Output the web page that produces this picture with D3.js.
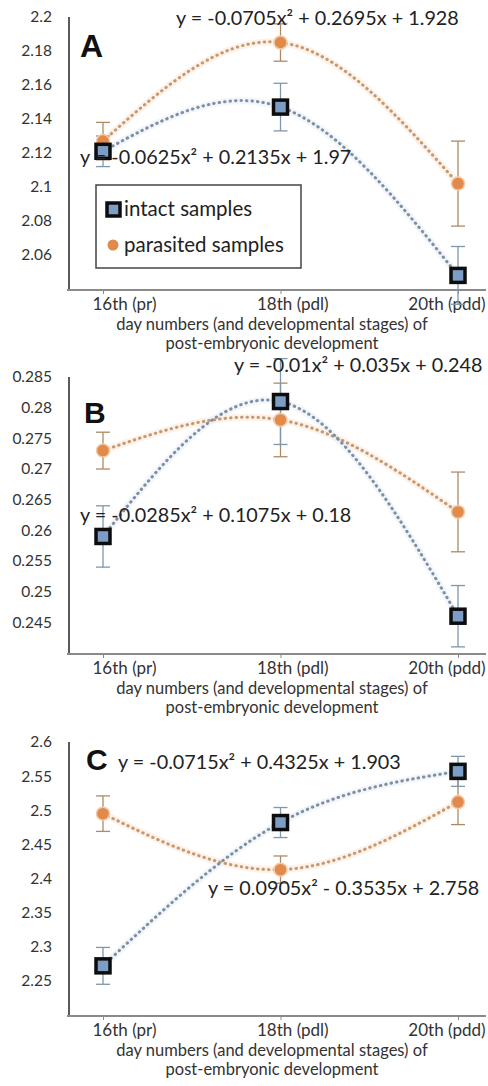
<!DOCTYPE html>
<html>
<head>
<meta charset="utf-8">
<script src="https://cdn.jsdelivr.net/npm/d3@7/dist/d3.min.js"></script>
<style>
  html, body { margin: 0; padding: 0; background: #fff; }
  svg { display: block; font-family: Lato, "Open Sans", sans-serif; }
</style>
</head>
<body>
<div id="chart"></div>
<script>
// day numbers (and stages) on the category axis
const stages = ['16th (pr)', '18th (pdl)', '20th (pdd)'];
const axisTitle = ['day numbers (and developmental stages) of', 'post-embryonic development'];
const seriesNames = ['intact samples', 'parasited samples'];

// panel A
const intactA = [2.121, 2.147, 2.048];
const intactErrA = [0.009, 0.014, 0.017];
const parasitedA = [2.127, 2.185, 2.102];
const parasitedErrA = [0.011, 0.011, 0.025];
const ticksA = [2.06, 2.08, 2.1, 2.12, 2.14, 2.16, 2.18, 2.2];
const domainA = [2.04, 2.2];
const equationsA = ['y = -0.0625x² + 0.2135x + 1.97', 'y = -0.0705x² + 0.2695x + 1.928'];

// panel B
const intactB = [0.259, 0.281, 0.246];
const intactErrB = [0.005, 0.007, 0.005];
const parasitedB = [0.273, 0.278, 0.263];
const parasitedErrB = [0.003, 0.006, 0.0065];
const ticksB = [0.245, 0.25, 0.255, 0.26, 0.265, 0.27, 0.275, 0.28, 0.285];
const domainB = [0.24, 0.285];
const equationsB = ['y = -0.0285x² + 0.1075x + 0.18', 'y = -0.01x² + 0.035x + 0.248'];

// panel C
const intactC = [2.272, 2.482, 2.557];
const intactErrC = [0.027, 0.022, 0.022];
const parasitedC = [2.495, 2.413, 2.512];
const parasitedErrC = [0.026, 0.02, 0.033];
const ticksC = [2.25, 2.3, 2.35, 2.4, 2.45, 2.5, 2.55, 2.6];
const domainC = [2.2, 2.6];
const equationsC = ['y = -0.0715x² + 0.4325x + 1.903', 'y = 0.0905x² - 0.3535x + 2.758'];

const width = 488;
const height = 1086;
const axisLeftX = 69;
const axisRightX = 486;

// where each category label sits relative to its tick (Excel squeezes them in)
const labelAnchor = ['start', 'start', 'end'];
const labelShift = [-11, -24, 27];

const colors = {
  intactFill: '#7c9ec6',
  intactLine: '#7f8fa2',
  intactErr: '#7f97ad',
  parasited: '#e08a4c',
  parasitedLine: '#c59870',
  parasitedErr: '#ad8a66'
};

const panels = [
  {
    letter: 'A', top: 17, bottom: 289, domain: domainA, ticks: ticksA,
    intact: intactA, intactErr: intactErrA, parasited: parasitedA, parasitedErr: parasitedErrA,
    letterPos: [80, 57, 32],
    eqIntact: { text: equationsA[0], x: 80, y: 157 },
    eqParasited: { text: equationsA[1], x: 176, y: 18 },
    legend: true
  },
  {
    letter: 'B', top: 377, bottom: 653, domain: domainB, ticks: ticksB,
    intact: intactB, intactErr: intactErrB, parasited: parasitedB, parasitedErr: parasitedErrB,
    letterPos: [84, 423, 30],
    eqIntact: { text: equationsB[0], x: 80, y: 515 },
    eqParasited: { text: equationsB[1], x: 234, y: 365 },
    legend: false
  },
  {
    letter: 'C', top: 742, bottom: 1015, domain: domainC, ticks: ticksC,
    intact: intactC, intactErr: intactErrC, parasited: parasitedC, parasitedErr: parasitedErrC,
    letterPos: [86, 770, 30],
    eqIntact: { text: equationsC[0], x: 118, y: 762 },
    eqParasited: { text: equationsC[1], x: 208, y: 888 },
    legend: false
  }
];

const svg = d3.select('#chart')
  .append('svg')
  .attr('width', width)
  .attr('height', height)
  .attr('viewBox', `0 0 ${width} ${height}`);

const x = d3.scalePoint()
  .domain(stages)
  .range([103, 458]);

function drawPanel(panel) {
  const g = svg.append('g').attr('class', `panel panel-${panel.letter}`);

  const y = d3.scaleLinear()
    .domain(panel.domain)
    .range([panel.bottom, panel.top]);

  // y axis: labels only, line drawn separately
  const yAxis = g.append('g')
    .attr('transform', `translate(${axisLeftX},0)`)
    .call(d3.axisLeft(y).tickValues(panel.ticks).tickSize(0).tickPadding(17)
      .tickFormat((d) => String(+d.toFixed(3))));
  yAxis.select('.domain').remove();
  yAxis.selectAll('text')
    .attr('font-family', 'Lato, sans-serif')
    .attr('font-size', 15.5)
    .attr('fill', '#333');

  g.append('line')
    .attr('x1', axisLeftX).attr('x2', axisLeftX)
    .attr('y1', panel.top).attr('y2', panel.bottom + 2)
    .attr('stroke', '#5a5a5a').attr('stroke-width', 2);

  // x axis
  g.append('line')
    .attr('x1', axisLeftX - 2).attr('x2', axisRightX)
    .attr('y1', panel.bottom + 1).attr('y2', panel.bottom + 1)
    .attr('stroke', '#8a8a8a').attr('stroke-width', 2);

  const xAxis = g.append('g')
    .attr('transform', `translate(0,${panel.bottom + 1})`)
    .call(d3.axisBottom(x).tickSize(4).tickPadding(4));
  xAxis.select('.domain').remove();
  xAxis.selectAll('.tick line').attr('stroke', '#8a8a8a');
  xAxis.selectAll('text')
    .attr('font-family', 'Lato, sans-serif')
    .attr('font-size', 17)
    .attr('fill', '#333')
    .attr('text-anchor', (d, i) => labelAnchor[i])
    .attr('dx', (d, i) => labelShift[i]);

  const titleX = 272;
  g.selectAll('.axis-title')
    .data(axisTitle)
    .join('text')
    .attr('class', 'axis-title')
    .attr('x', titleX)
    .attr('y', (d, i) => panel.bottom + 41 + i * 19)
    .attr('text-anchor', 'middle')
    .attr('font-size', 16.5)
    .attr('fill', '#333')
    .text((d) => d);

  // dotted trendlines
  const trend = d3.line()
    .x((d, i) => x(stages[i]))
    .y((d) => y(d))
    .curve(d3.curveNatural);

  const trends = [
    { values: panel.parasited, color: colors.parasitedLine, halo: '#fbe9da' },
    { values: panel.intact, color: colors.intactLine, halo: '#e9eff6' }
  ];

  trends.forEach((t) => {
    g.append('path')
      .attr('d', trend(t.values))
      .attr('fill', 'none')
      .attr('stroke', t.halo)
      .attr('stroke-width', 7)
      .attr('stroke-opacity', 0.6);
  });
  trends.forEach((t) => {
    g.append('path')
      .attr('d', trend(t.values))
      .attr('fill', 'none')
      .attr('stroke', t.color)
      .attr('stroke-width', 3)
      .attr('stroke-linecap', 'round')
      .attr('stroke-dasharray', '0.5 5');
  });

  // error bars
  const errSeries = [
    { values: panel.parasited, errs: panel.parasitedErr, color: colors.parasitedErr },
    { values: panel.intact, errs: panel.intactErr, color: colors.intactErr }
  ];
  errSeries.forEach((s) => {
    const bars = g.append('g')
      .selectAll('g')
      .data(s.values)
      .join('g')
      .attr('stroke', s.color)
      .attr('stroke-width', 1.3);
    bars.append('line')
      .attr('x1', (d, i) => x(stages[i]))
      .attr('x2', (d, i) => x(stages[i]))
      .attr('y1', (d, i) => y(d - s.errs[i]))
      .attr('y2', (d, i) => y(d + s.errs[i]));
    [-1, 1].forEach((sign) => {
      bars.append('line')
        .attr('x1', (d, i) => x(stages[i]) - 7)
        .attr('x2', (d, i) => x(stages[i]) + 7)
        .attr('y1', (d, i) => y(d + sign * s.errs[i]))
        .attr('y2', (d, i) => y(d + sign * s.errs[i]));
    });
  });

  // markers
  g.append('g')
    .selectAll('circle')
    .data(panel.parasited)
    .join('circle')
    .attr('cx', (d, i) => x(stages[i]))
    .attr('cy', (d) => y(d))
    .attr('r', 6.5)
    .attr('fill', colors.parasited)
    .attr('stroke', '#f6c9a6')
    .attr('stroke-width', 1.5);

  g.append('g')
    .selectAll('rect')
    .data(panel.intact)
    .join('rect')
    .attr('x', (d, i) => x(stages[i]) - 7)
    .attr('y', (d) => y(d) - 7)
    .attr('width', 14)
    .attr('height', 14)
    .attr('fill', colors.intactFill)
    .attr('stroke', '#0d0d0d')
    .attr('stroke-width', 3.5);

  // panel letter
  g.append('text')
    .attr('x', panel.letterPos[0])
    .attr('y', panel.letterPos[1])
    .attr('font-family', '"Liberation Sans", Arial, sans-serif')
    .attr('font-weight', 'bold')
    .attr('font-size', panel.letterPos[2])
    .attr('fill', '#111')
    .text(panel.letter);

  // trendline equations
  [panel.eqIntact, panel.eqParasited].forEach((eq) => {
    g.append('text')
      .attr('x', eq.x)
      .attr('y', eq.y)
      .attr('dy', '0.35em')
      .attr('font-size', 19.8)
      .attr('fill', '#222')
      .text(eq.text);
  });

  if (panel.legend) {
    const legend = g.append('g').attr('class', 'legend');
    legend.append('rect')
      .attr('x', 96).attr('y', 185)
      .attr('width', 205).attr('height', 83)
      .attr('fill', '#fff')
      .attr('stroke', '#444')
      .attr('stroke-width', 1.5);

    legend.append('rect')
      .attr('x', 107).attr('y', 203)
      .attr('width', 13).attr('height', 13)
      .attr('fill', colors.intactFill)
      .attr('stroke', '#0d0d0d')
      .attr('stroke-width', 3.5);

    legend.append('circle')
      .attr('cx', 113).attr('cy', 245)
      .attr('r', 5.5)
      .attr('fill', colors.parasited);

    legend.selectAll('.legend-label')
      .data(seriesNames)
      .join('text')
      .attr('class', 'legend-label')
      .attr('x', 124)
      .attr('y', (d, i) => 209 + i * 36)
      .attr('dy', '0.35em')
      .attr('font-size', 20.5)
      .attr('fill', '#222')
      .text((d) => d);
  }
}

panels.forEach(drawPanel);
</script>
</body>
</html>
